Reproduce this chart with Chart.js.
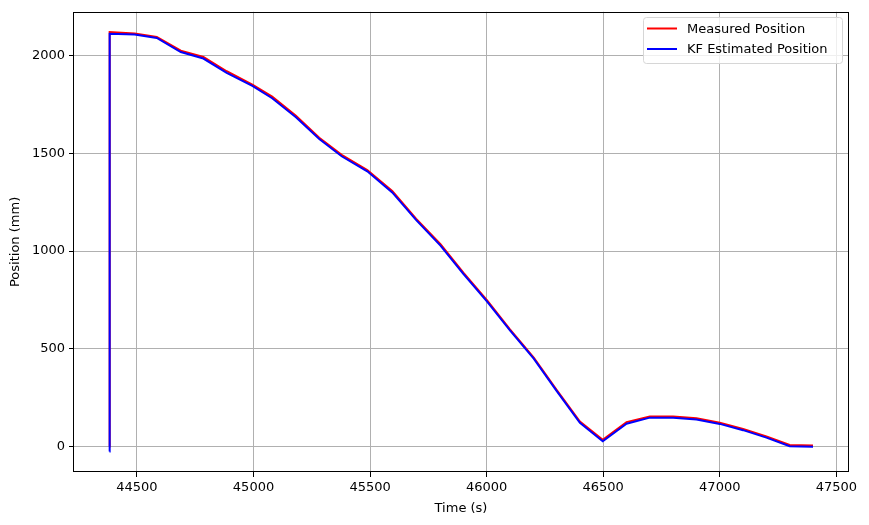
<!DOCTYPE html>
<html>
<head>
<meta charset="utf-8">
<script src="https://cdn.jsdelivr.net/npm/chart.js@4/dist/chart.umd.min.js"></script>
<style>
  html, body { margin: 0; padding: 0; background: #fff; }
  #wrap { width: 869px; height: 525px; }
</style>
</head>
<body>
<div id="wrap"><canvas id="graph" width="869" height="525"></canvas></div>
<script>
// time stamps (s)
const timeValues = [44382, 44383, 44490, 44585, 44688, 44785, 44885, 44995, 45080, 45182,
  45282, 45378, 45488, 45595, 45698, 45802, 45900, 46002, 46100, 46202,
  46300, 46400, 46498, 46600, 46700, 46800, 46900, 47000, 47100, 47200,
  47300, 47400];

// measured position (mm)
const measuredValues = [0, 2120, 2113, 2095, 2025, 1993, 1920, 1852, 1790, 1692,
  1580, 1492, 1415, 1308, 1165, 1035, 890, 748, 600, 455,
  290, 128, 35, 125, 154, 154, 145, 122, 90, 52,
  8, 5];

// kalman filter estimate (mm)
const estimatedValues = [-25, 2112, 2108, 2090, 2018, 1985, 1912, 1845, 1782, 1685,
  1573, 1485, 1408, 1300, 1158, 1028, 883, 741, 594, 450,
  285, 122, 27, 117, 148, 148, 138, 116, 84, 46,
  2, -1];

const xTicks = [44500, 45000, 45500, 46000, 46500, 47000, 47500];
const yTicks = [0, 500, 1000, 1500, 2000];

const FONT = "'DejaVu Sans', sans-serif";

const toPoints = (ys) => timeValues.map((t, i) => ({ x: t, y: ys[i] }));

// 枠線（上下左右）
const framePlugin = {
  id: "frame",
  afterDraw(chart) {
    const { ctx, chartArea: a } = chart;
    ctx.save();
    ctx.strokeStyle = "#000";
    ctx.lineWidth = 1;
    ctx.strokeRect(Math.round(a.left) - 0.5, Math.round(a.top) + 0.5,
      Math.round(a.right - a.left) + 1, Math.round(a.bottom - a.top) - 1);
    ctx.restore();
  },
};

// matplotlib風の凡例
const legendPlugin = {
  id: "mplLegend",
  afterDraw(chart) {
    const { ctx } = chart;
    const items = [chart.data.datasets[0], chart.data.datasets[1]];
    const x0 = 643, y0 = 17, w = 199, h = 46;
    ctx.save();
    ctx.beginPath();
    ctx.roundRect(x0 + 0.5, y0 + 0.5, w, h, 3);
    ctx.fillStyle = "rgba(255,255,255,0.8)";
    ctx.fill();
    ctx.strokeStyle = "#d6d6d6";
    ctx.lineWidth = 1;
    ctx.stroke();
    ctx.font = "13px " + FONT;
    ctx.textBaseline = "middle";
    items.forEach((ds, i) => {
      const y = 28.5 + i * 20.5;
      ctx.strokeStyle = ds.borderColor;
      ctx.lineWidth = 2;
      ctx.beginPath();
      ctx.moveTo(647, y);
      ctx.lineTo(677, y);
      ctx.stroke();
      ctx.fillStyle = "#000";
      ctx.fillText(ds.label, 687, y + 1);
    });
    ctx.restore();
  },
};

new Chart(document.getElementById("graph"), {
  type: "line",
  data: {
    datasets: [
      {
        label: "Measured Position",
        data: toPoints(measuredValues),
        borderColor: "#ff0000",
        backgroundColor: "#ff0000",
        borderWidth: 2,
        pointRadius: 0,
        tension: 0,
        order: 1,
      },
      {
        label: "KF Estimated Position",
        data: toPoints(estimatedValues),
        borderColor: "#0000ff",
        backgroundColor: "#0000ff",
        borderWidth: 2,
        pointRadius: 0,
        tension: 0,
        order: 0,
      },
    ],
  },
  options: {
    responsive: false,
    animation: false,
    layout: { padding: { top: 9, right: 21, left: 0, bottom: 0 } },
    plugins: {
      legend: { display: false },
      tooltip: { enabled: false },
    },
    scales: {
      x: {
        type: "linear",
        min: 44230,
        max: 47550,
        afterFit(scale) { scale.height = 53; },
        afterBuildTicks(scale) { scale.ticks = xTicks.map((v) => ({ value: v })); },
        ticks: {
          color: "#000",
          font: { family: FONT, size: 13 },
          padding: 3,
          maxRotation: 0,
          callback: (v) => String(v),
        },
        grid: { color: "#b0b0b0", lineWidth: 1, tickColor: "#000", tickLength: 5 },
        border: { display: false },
        title: {
          display: true,
          text: "Time (s)",
          color: "#000",
          font: { family: FONT, size: 13 },
          padding: { top: 0, bottom: 9 },
        },
      },
      y: {
        type: "linear",
        min: -130,
        max: 2224,
        afterFit(scale) { scale.width = 74; },
        afterBuildTicks(scale) { scale.ticks = yTicks.map((v) => ({ value: v })); },
        ticks: {
          color: "#000",
          font: { family: FONT, size: 13 },
          padding: 4,
          callback: (v) => String(v),
        },
        grid: { color: "#b0b0b0", lineWidth: 1, tickColor: "#000", tickLength: 5 },
        border: { display: false },
        title: {
          display: true,
          text: "Position (mm)",
          color: "#000",
          font: { family: FONT, size: 13 },
          padding: { top: 8, bottom: 0 },
        },
      },
    },
  },
  plugins: [framePlugin, legendPlugin],
});
</script>
</body>
</html>
